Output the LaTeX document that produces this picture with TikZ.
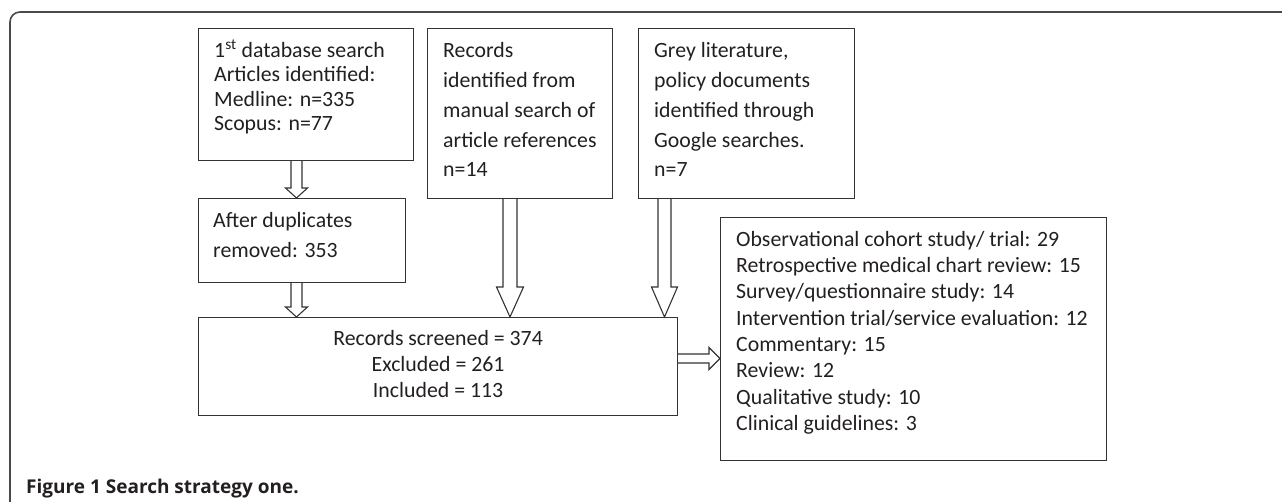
\documentclass[tikz,border=0pt]{standalone}
\usepackage{fontspec}
\setmainfont{Carlito}
\newfontfamily\capfont{Open Sans}
\usetikzlibrary{calc}
\definecolor{ink}{HTML}{231F20}
\definecolor{framegray}{HTML}{4A4A4A}
\definecolor{boxline}{HTML}{333333}
\newcommand\vblock[5]{%
  \draw[arrowline] let \p1=(#1), \p2=(#2) in
   (\x1-#3,\y1) -- (\x1-#3,\y2+#5) -- (\x1-#4,\y2+#5) -- (\x1,\y2)
   -- (\x1+#4,\y2+#5) -- (\x1+#3,\y2+#5) -- (\x1+#3,\y1);}
\newcommand\hblock[5]{%
  \draw[arrowline] let \p1=(#1), \p2=(#2) in
   (\x1,\y1+#3) -- (\x2-#5,\y1+#3) -- (\x2-#5,\y1+#4) -- (\x2,\y1)
   -- (\x2-#5,\y1-#4) -- (\x2-#5,\y1-#3) -- (\x1,\y1-#3);}
\begin{document}
\begin{tikzpicture}[x=1pt,y=-1pt,
  box/.style={draw=boxline, line width=1.2pt, rectangle, inner sep=0pt, anchor=north west},
  txt/.style={anchor=north west, inner sep=0pt, align=left, text=ink,
    font=\fontsize{21.8}{#1}\selectfont},
  txt/.default=26,
  arrowline/.style={draw=boxline, line width=1.1pt, line join=miter, fill=white},
  framestyle/.style={draw=framegray, line width=1.6pt, rounded corners=10pt}]
\useasboundingbox (0,0) rectangle (1282,502);
\draw[framestyle] (10,520) -- (10,12) -- (1300,12);
% boxes
\node[box, minimum width=215pt, minimum height=132pt] (b1) at (198,28) {};
\node[box, minimum width=185pt, minimum height=170pt] (b2) at (427,28) {};
\node[box, minimum width=216pt, minimum height=170pt] (b3) at (638,28) {};
\node[box, minimum width=207pt, minimum height=84pt] (b4) at (198,198) {};
\node[box, minimum width=479pt, minimum height=98pt] (b5) at (198,317) {};
\node[box, minimum width=386pt, minimum height=243pt] (b6) at (720,217) {};
% texts
\node[txt=24.5] (t1) at ($(b1.north west)+(16,9)$)
  {\rule{0pt}{20pt}1\textsuperscript{st} database search\\Articles identified:\\Medline: n=335\\Scopus: n=77};
\node[txt=29.8] (t2) at ($(b2.north west)+(16,9.5)$)
  {\rule{0pt}{20pt}Records\\identified from\\manual search of\\article references\\n=14};
\node[txt=29.8] (t3) at ($(b3.north west)+(16,9.5)$)
  {\rule{0pt}{20pt}Grey literature,\\policy documents\\identified through\\Google searches.\\n=7};
\node[txt=30] (t4) at ($(b4.north west)+(15,9)$)
  {\rule{0pt}{20pt}After duplicates\\removed: 353};
\node[txt=26, anchor=north, align=center] (t5) at ($(b5.north)+(0,8)$)
  {\rule{0pt}{20pt}Records screened = 374\\Excluded = 261\\Included = 113};
\node[txt=26.3] (t6) at ($(b6.north west)+(16,9)$)
  {\rule{0pt}{20pt}Observational cohort study/ trial: 29\\Retrospective medical chart review: 15\\Survey/questionnaire study: 14\\Intervention trial/service evaluation: 12\\Commentary: 15\\Review: 12\\Qualitative study: 10\\Clinical guidelines: 3};
% arrows
\vblock{$(b1.south west)+(98.5,0)$}{$(b4.north west)+(98.5,0)$}{5.5pt}{11pt}{10pt}
\vblock{$(b4.south west)+(98.5,0)$}{$(b5.north west)+(98.5,0)$}{5.5pt}{11pt}{10pt}
\vblock{$(b2.south west)+(83,0)$}{$(b5.north west)+(312,0)$}{7pt}{13.5pt}{30pt}
\vblock{$(b3.south west)+(26.5,0)$}{$(b5.north west)+(466.5,0)$}{6.5pt}{13pt}{30pt}
\hblock{$(b5.north east)+(0,41.5)$}{$(b6.north west)+(0,141.5)$}{4.5pt}{11pt}{11pt}
% caption
\node[anchor=base west, inner sep=0pt, text=ink, font=\capfont\bfseries\fontsize{19}{22}\selectfont] (cap) at (26,493) {Figure 1 Search strategy one.};
\end{tikzpicture}
\end{document}
